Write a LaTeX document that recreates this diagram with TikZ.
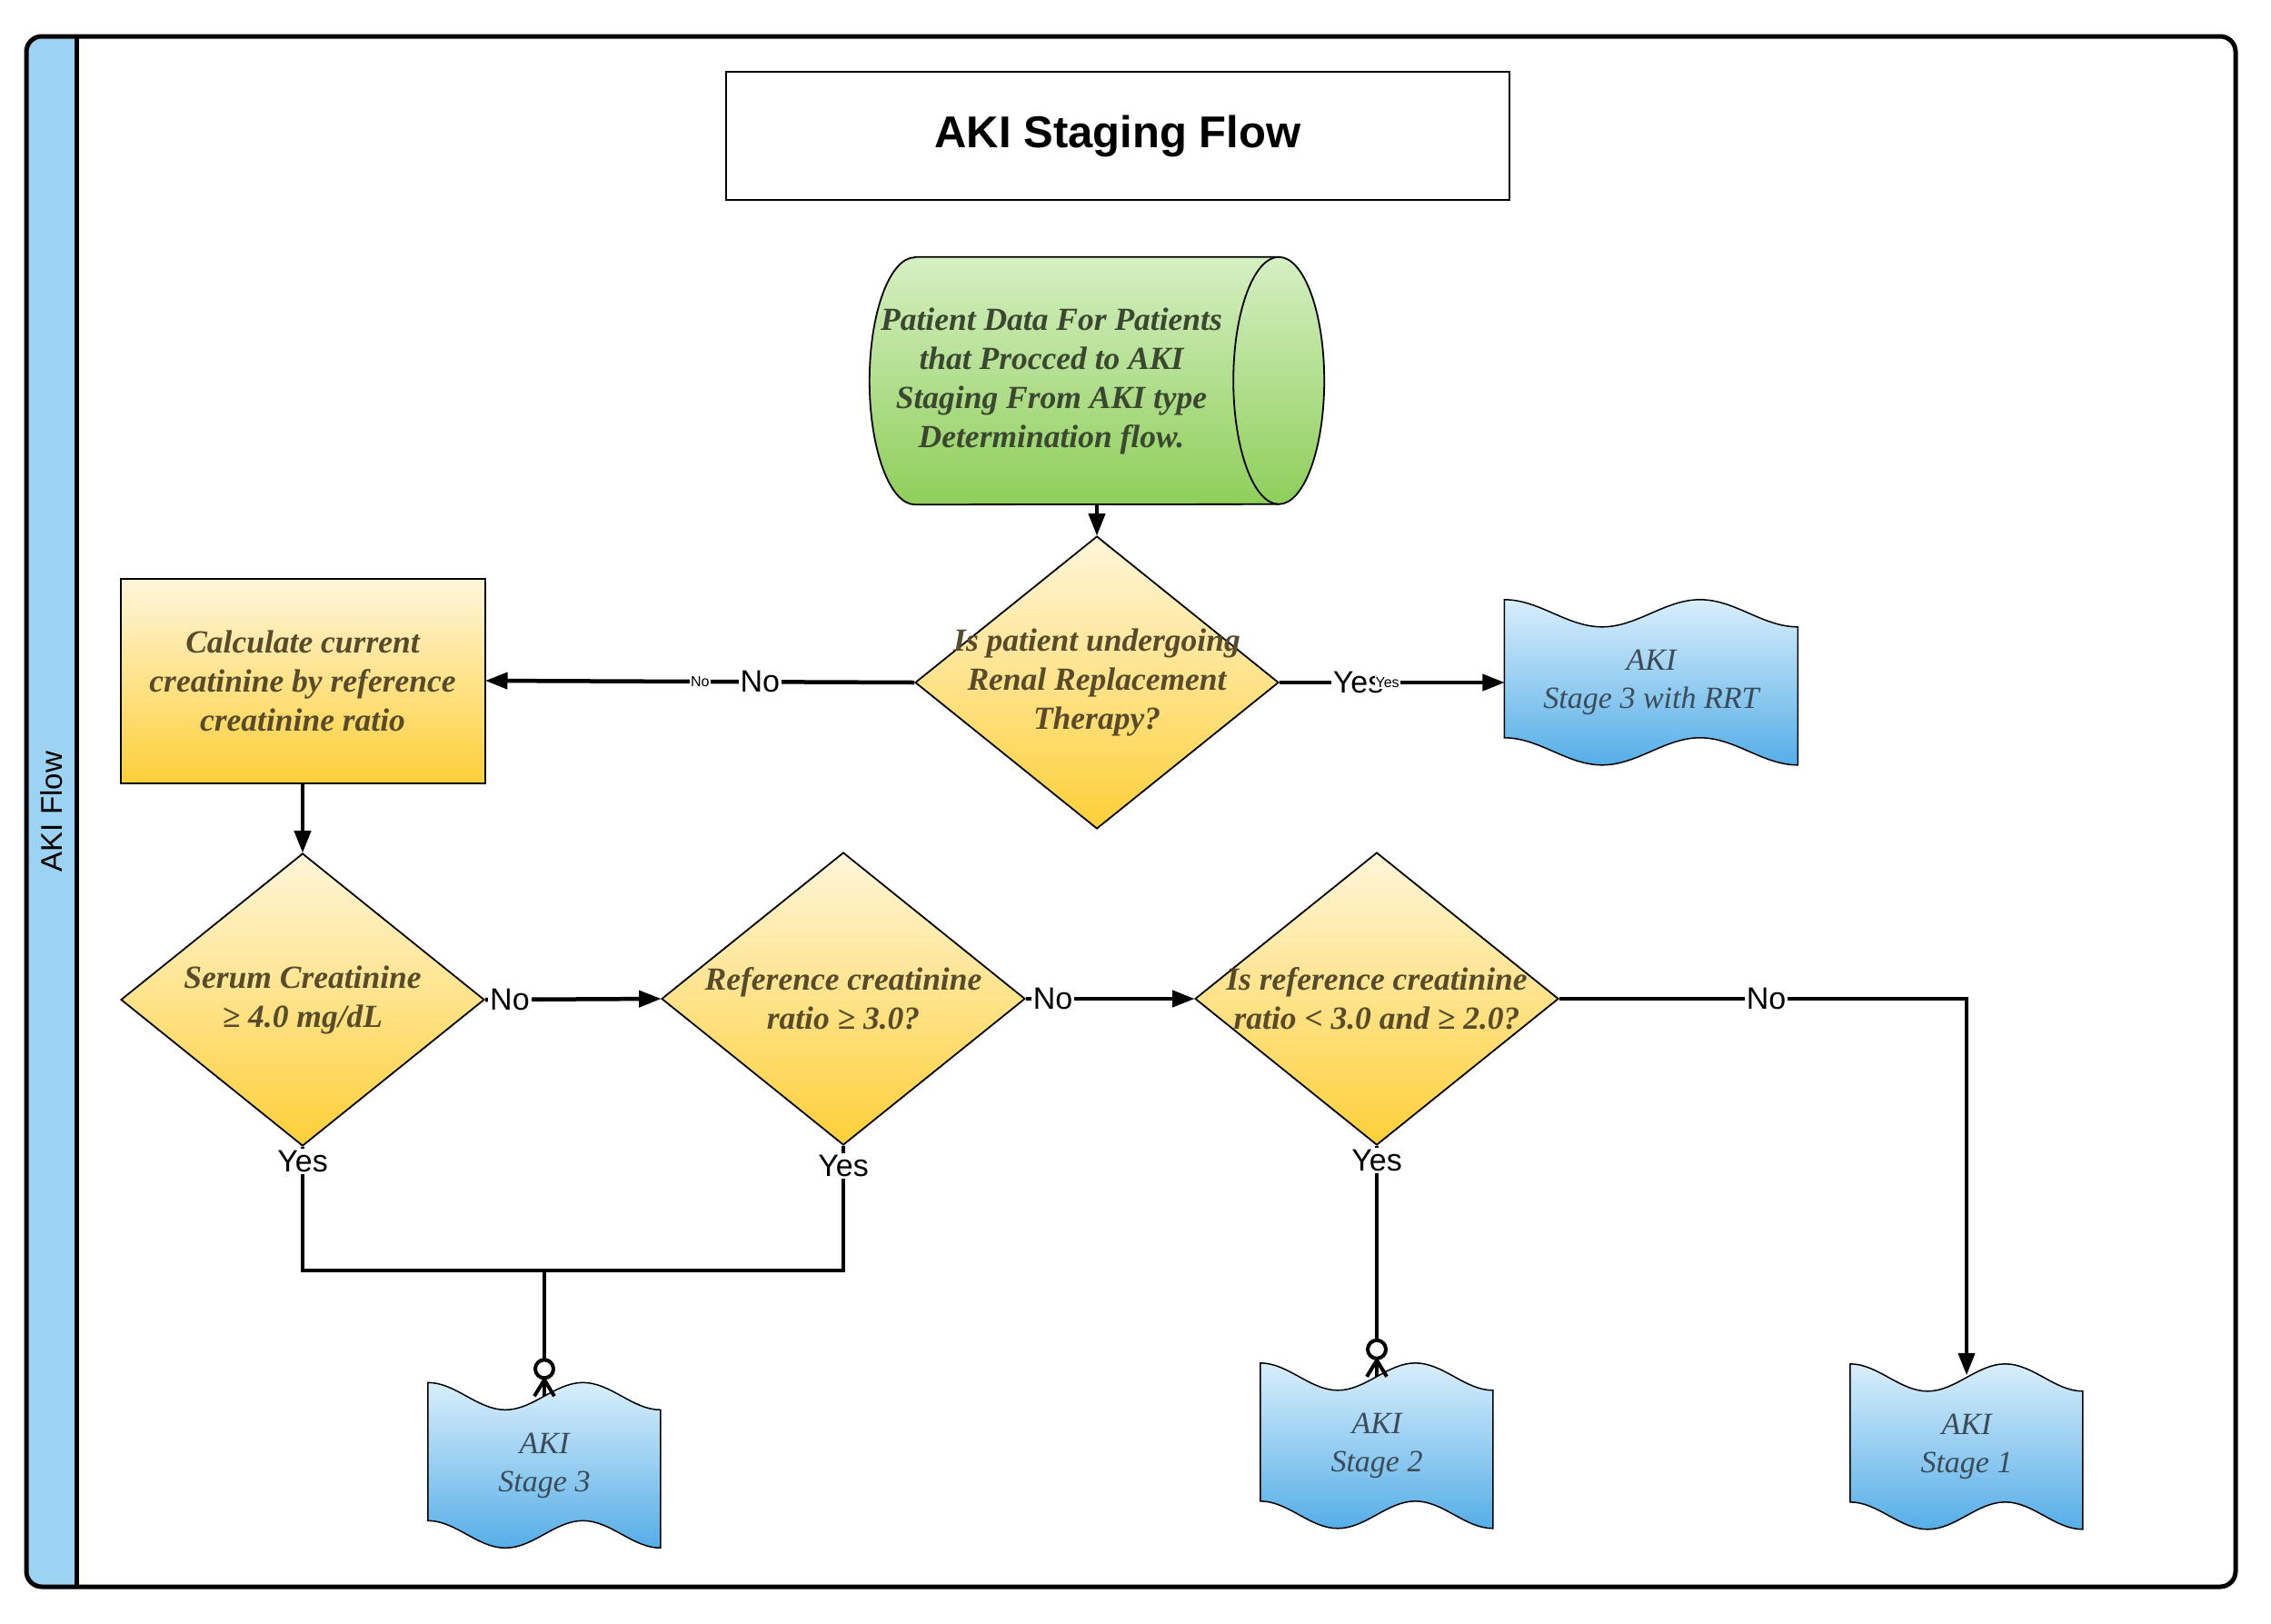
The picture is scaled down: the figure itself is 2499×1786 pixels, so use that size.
\documentclass[tikz,border=0pt]{standalone}
\usepackage{fontspec}
\setmainfont{Liberation Serif}
\setsansfont{Liberation Sans}
\usetikzlibrary{shapes.geometric,arrows.meta,calc,backgrounds}

\definecolor{bandblue}{HTML}{9DD3F2}
\definecolor{ylwtop}{HTML}{FFF6DA}
\definecolor{ylwbot}{HTML}{FDCF38}
\definecolor{grntop}{HTML}{D5EFC2}
\definecolor{grnbot}{HTML}{8ECF5A}
\definecolor{blutop}{HTML}{D8EEFB}
\definecolor{blubot}{HTML}{55AEE8}
\definecolor{ylwtext}{HTML}{574B2C}
\definecolor{grntext}{HTML}{3C4731}
\definecolor{blutext}{HTML}{3C4B57}

\begin{document}
\begin{tikzpicture}
[
    x=1pt, y=-1pt,
    qtext/.style={font=\fontsize{35.5}{43}\selectfont\bfseries\itshape, align=center},
    yshade/.style={top color=ylwtop, bottom color=ylwbot},
    process/.style={qtext, rectangle, draw, line width=2pt, yshade, text=ylwtext, minimum width=401, minimum height=225},
    decision/.style={qtext, diamond, draw, line width=1.8pt, yshade, text=ylwtext, minimum width=400, minimum height=322, inner sep=-40pt},
    stage/.style={font=\fontsize{34}{42}\selectfont\itshape, text=blutext, align=center, minimum height=182, inner sep=0pt},
    link/.style={line width=4.5pt},
    arr/.style={link, -{Triangle[length=24pt, width=19pt, line width=1pt]}},
    lbl/.style={font=\sffamily\fontsize{34}{40}\selectfont, fill=white, inner sep=2pt},
    tiny/.style={font=\sffamily\fontsize{16}{18}\selectfont, fill=white, inner sep=1pt},
]
\useasboundingbox (0,0) rectangle (2499,1786);

\fill[bandblue, rounded corners=17] (84,40) -- (29,40) -- (29,1746) -- (84,1746);
\draw[line width=5pt, rounded corners=17] (29,40) rectangle (2460,1746);
\draw[line width=5pt] (84,40) -- (84,1746);
\node[rotate=90, font=\sffamily\fontsize{33}{38}\selectfont] (lane) at (56.5,893) {AKI Flow};

\node[draw, line width=2pt, minimum width=862, minimum height=141,
    font=\sffamily\bfseries\fontsize{49}{55}\selectfont] (title) at (1230,149.5) {AKI Staging Flow};

\node[qtext, text=grntext, minimum width=400, minimum height=272, inner sep=0pt] (src) at (1157,419)
    {Patient Data For Patients\\that Procced to AKI\\Staging From AKI type\\Determination flow.};

\node[decision] (rrt) at (1207,751) {Is patient undergoing\\Renal Replacement\\Therapy?};
\node[process] (calc) at (333,749) {Calculate current\\creatinine by reference\\creatinine ratio};
\node[decision] (scr) at (333,1100) {Serum Creatinine\\≥ 4.0 mg/dL};
\node[decision] (ref3) at (928,1099) {Reference creatinine\\ratio ≥ 3.0?};
\node[decision] (ref2) at (1515,1099) {Is reference creatinine\\ratio < 3.0 and ≥ 2.0?};

\node[stage, minimum width=323] (s3rrt) at (1817,751) {AKI\\Stage 3 with RRT};
\node[stage, minimum width=256] (s3) at (599,1612.5) {AKI\\Stage 3};
\node[stage, minimum width=256] (s2) at (1515,1591) {AKI\\Stage 2};
\node[stage, minimum width=256] (s1) at (2164,1592) {AKI\\Stage 1};

\begin{scope}[on background layer]
\path[draw, line width=1.8pt, top color=grntop, bottom color=grnbot]
    ($(src.north west)+(50,0)$) -- ($(src.north east)+(50,0)$) arc (-90:90:50 and 136)
    -- ($(src.south west)+(50,0)$) arc (90:270:50 and 136) -- cycle;
\draw[line width=1.8pt] ($(src.north east)+(50,0)$) arc (-90:-270:50 and 136);
\foreach \d/\w in {s3rrt/323, s3/256, s2/256, s1/256}
{
    \path[draw, line width=1.5pt, top color=blutop, bottom color=blubot, shift={(\d.north west)}]
        (0,0) .. controls (0.12*\w,0) and (0.213*\w,30) .. (\w/3,30)
        .. controls (0.453*\w,30) and (0.547*\w,0) .. (2*\w/3,0)
        .. controls (0.787*\w,0) and (0.88*\w,30) .. (\w,30)
        -- (\w,182)
        .. controls (0.88*\w,182) and (0.787*\w,152) .. (2*\w/3,152)
        .. controls (0.547*\w,152) and (0.453*\w,182) .. (\w/3,182)
        .. controls (0.213*\w,182) and (0.12*\w,152) .. (0,152) -- cycle;
}
\end{scope}

\coordinate (join) at (599,1398);
\coordinate (s3in) at ($(s3.north)+(0,15)$);
\coordinate (s2in) at ($(s2.north)+(0,15)$);
\coordinate (s1in) at ($(s1.north)+(0,12)$);

\draw[arr] (src.south -| rrt.north) -- (rrt.north);
\draw[arr] (rrt.west) -- node[pos=0.5, tiny] {No} node[pos=0.36, lbl] {No} (calc.east);
\draw[arr] (rrt.east) -- node[pos=0.35, lbl] {Yes} node[pos=0.48, tiny] {Yes} (s3rrt.west);
\draw[arr] (calc.south) -- (scr.north);
\draw[arr] (scr.east) -- node[pos=0.14, lbl] {No} (ref3.west);
\draw[arr] (ref3.east) -- node[pos=0.16, lbl] {No} (ref2.west);
\draw[arr] (ref2.east) -| node[pos=0.254, lbl] {No} (s1in);
\draw[link] (scr.south) |- node[pos=0, below, lbl] {Yes} (join);
\draw[link] (ref3.south) |- node[pos=0, below, yshift=-6pt, lbl] {Yes} (join);
\draw[link] (join) -- (s3in);
\draw[link] (ref2.south) -- node[pos=0, below, lbl] {Yes} (s2in);

\foreach \e in {s3in, s2in}
{
    \draw[line width=4pt, fill=white] ($(\e)+(0,-30)$) circle (10);
    \draw[line width=4pt] ($(\e)+(0,-18)$) -- ($(\e)+(-11,0)$) ($(\e)+(0,-18)$) -- ($(\e)+(11,0)$);
}
\end{tikzpicture}
\end{document}
